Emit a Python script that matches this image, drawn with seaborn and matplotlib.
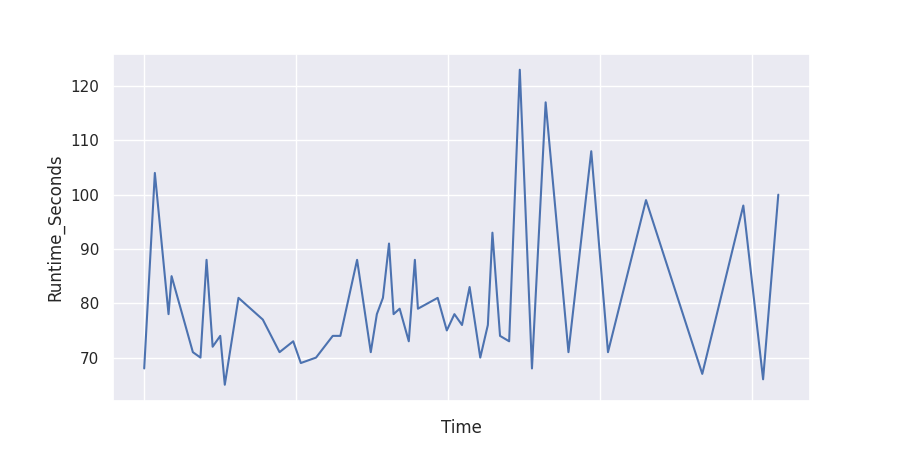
import pandas as pd
import seaborn as sns
import matplotlib.pyplot as plt

# 数据
time = [0, 7, 16, 18, 32, 37, 41, 45, 50, 53, 62, 78, 89, 98, 103, 113, 124, 129,
        140, 149, 153, 157, 161, 164, 168, 174, 178, 180, 193, 199, 204, 209, 214,
        221, 226, 229, 234, 240, 247, 255, 264, 279, 294, 305, 330, 367, 394, 407, 417]
runtime = [68, 104, 78, 85, 71, 70, 88, 72, 74, 65, 81, 77, 71, 73, 69, 70, 74, 74,
           88, 71, 78, 81, 91, 78, 79, 73, 88, 79, 81, 75, 78, 76, 83,
           70, 76, 93, 74, 73, 123, 68, 117, 71, 108, 71, 99, 67, 98, 66, 100]

df = pd.DataFrame({"Time": time, "Runtime_Seconds": runtime})

sns.set_theme()
fig = plt.figure(figsize=(9, 4.5), dpi=100)
ax = sns.lineplot(data=df, x="Time", y="Runtime_Seconds")
ax.set_xticks([0, 100, 200, 300, 400])
ax.set_xticklabels([])

plt.savefig("out.png")
